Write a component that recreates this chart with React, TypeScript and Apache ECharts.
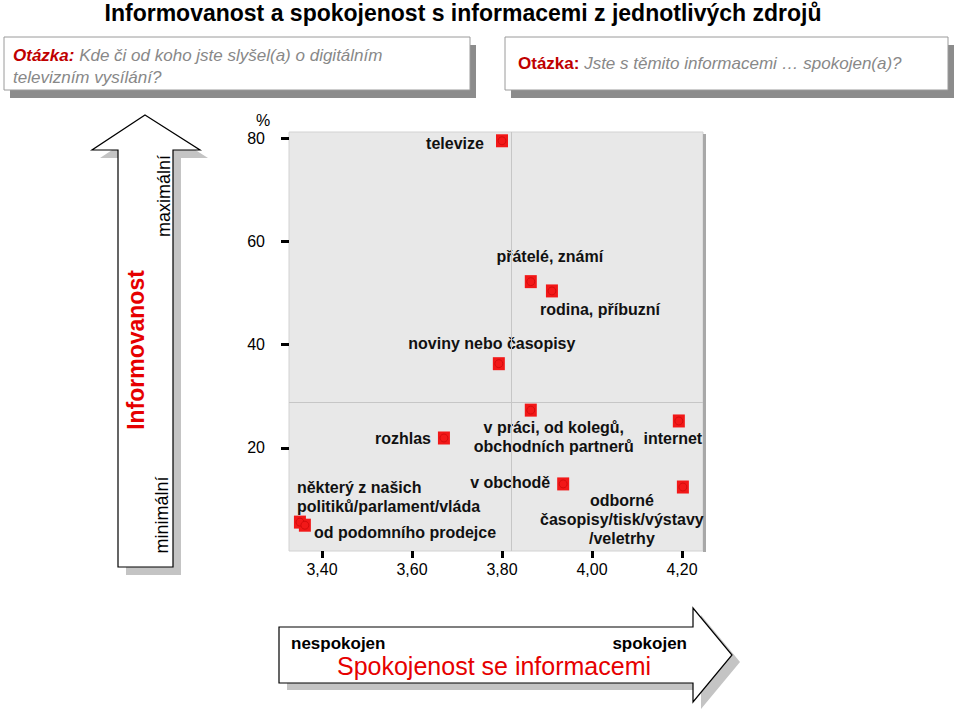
import React, { useEffect, useRef } from 'react';
import * as echarts from 'echarts';

const sources = [
  'televize',
  'přátelé, známí',
  'rodina, příbuzní',
  'noviny nebo časopisy',
  'v práci, od kolegů,\nobchodních partnerů',
  'internet',
  'rozhlas',
  'v obchodě',
  'odborné\nčasopisy/tisk/výstavy\n/veletrhy',
  'některý z našich\npolitiků/parlament/vláda',
  'od podomního prodejce',
];
const satisfaction = [3.8, 3.864, 3.911, 3.793, 3.864, 4.193, 3.671, 3.936, 4.202, 3.351, 3.362];
const awareness = [79.5, 52.2, 50.4, 36.3, 27.3, 25.2, 21.9, 13.0, 12.4, 5.6, 5.0];
const xTicks = [3.4, 3.6, 3.8, 4.0, 4.2];
const yTicks = [20, 40, 60, 80];
const meanSatisfaction = 3.822;
const meanAwareness = 28.9;

// label placement relative to each marker (layout, not data)
const labelLayout: { offset: [number, number]; align: 'left' | 'center' }[] = [
  { offset: [-47, 3], align: 'center' },
  { offset: [19, -25], align: 'center' },
  { offset: [48, 19], align: 'center' },
  { offset: [-7, -20], align: 'center' },
  { offset: [23, 27], align: 'center' },
  { offset: [-6, 18], align: 'center' },
  { offset: [-41, 1], align: 'center' },
  { offset: [-53, -1], align: 'center' },
  { offset: [-61, 32], align: 'center' },
  { offset: [-3, -25], align: 'left' },
  { offset: [9, 7], align: 'left' },
];

const FONT = '"Liberation Sans", Arial, sans-serif';

export default function App() {
  const ref = useRef<HTMLDivElement>(null);
  useEffect(() => {
    if (!ref.current) return;
    const chart = echarts.init(ref.current, undefined, { renderer: 'svg' });

    const rectData = sources.map((name, i) => ({
      name,
      value: [satisfaction[i], awareness[i]],
      label: {
        show: true,
        position: 'inside',
        offset: labelLayout[i].offset,
        align: labelLayout[i].align,
        verticalAlign: 'middle',
      },
    }));
    const circleData = sources.map((name, i) => ({ name, value: [satisfaction[i], awareness[i]] }));

    const shadowGray = '#c4c4c4';
    const upArrow = (dx: number, dy: number) => [
      [145 + dx, 115 + dy], [200 + dx, 150 + dy], [173 + dx, 150 + dy], [173 + dx, 567 + dy],
      [118 + dx, 567 + dy], [118 + dx, 150 + dy], [92 + dx, 150 + dy],
    ];
    const rightArrow = (dx: number, dy: number) => [
      [279 + dx, 627 + dy], [693 + dx, 627 + dy], [693 + dx, 608 + dy], [732 + dx, 655 + dy],
      [693 + dx, 702 + dy], [693 + dx, 683 + dy], [279 + dx, 683 + dy],
    ];

    const option: any = {
      animation: false,
      backgroundColor: '#ffffff',
      textStyle: { fontFamily: FONT },
      grid: {
        left: 289, top: 132, width: 414, height: 419,
        show: true, backgroundColor: '#e8e8e8', borderColor: '#d2d2d2', borderWidth: 1,
      },
      xAxis: {
        type: 'value', min: 3.3267, max: 4.2467,
        axisLine: { show: false },
        splitLine: { show: false },
        axisTick: { show: true, customValues: xTicks, length: 7, lineStyle: { color: '#000', width: 3 } },
        axisLabel: {
          customValues: xTicks, margin: 10, color: '#000', fontSize: 16, fontFamily: FONT,
          formatter: (v: number) => v.toFixed(2).replace('.', ','),
        },
      },
      yAxis: {
        type: 'value', min: 0, max: 81.2,
        axisLine: { show: false },
        splitLine: { show: false },
        axisTick: { show: true, customValues: yTicks, length: 8, lineStyle: { color: '#000', width: 3 } },
        axisLabel: { customValues: yTicks, margin: 24, color: '#000', fontSize: 16, fontFamily: FONT },
      },
      series: [
        {
          type: 'scatter',
          symbol: 'rect',
          symbolSize: [12, 13],
          itemStyle: { color: '#f21818', opacity: 1 },
          label: {
            color: '#111', fontSize: 16, fontWeight: 'bold', fontFamily: FONT, lineHeight: 19,
            formatter: (p: any) => p.name,
          },
          data: rectData,
          markLine: {
            silent: true, symbol: 'none', label: { show: false },
            lineStyle: { color: '#c6c6c6', width: 1, type: 'solid' },
            data: [{ xAxis: meanSatisfaction }, { yAxis: meanAwareness }],
          },
          z: 3,
        },
        {
          type: 'scatter',
          symbol: 'circle',
          symbolSize: 8,
          itemStyle: { color: '#f21818', borderColor: '#d40c0c', borderWidth: 1, opacity: 1 },
          label: { show: false },
          data: circleData,
          z: 4,
        },
      ],
      graphic: [
        {
          type: 'text', x: 463, y: 13,
          style: {
            text: 'Informovanost a spokojenost s informacemi z jednotlivých zdrojů',
            font: `bold 23px ${FONT}`,
            fill: '#000', textAlign: 'center', textVerticalAlign: 'middle',
          },
        },
        // question box 1
        { type: 'rect', shape: { x: 10, y: 45, width: 466, height: 53 }, style: { fill: '#8c8c8c' } },
        { type: 'rect', shape: { x: 4, y: 37, width: 466, height: 53 }, style: { fill: '#fff', stroke: '#9a9a9a', lineWidth: 1 } },
        {
          type: 'text', x: 13, y: 55,
          style: {
            text: '{r|Otázka:}{g| Kde či od koho jste slyšel(a) o digitálním}',
            textVerticalAlign: 'middle',
            rich: {
              r: { fontFamily: FONT, fontSize: 17, fontWeight: 'bold', fontStyle: 'italic', fill: '#bf0000' },
              g: { fontFamily: FONT, fontSize: 17, fontStyle: 'italic', fill: '#888888' },
            },
          },
        },
        {
          type: 'text', x: 13, y: 77,
          style: { text: 'televizním vysílání?', font: `italic 17px ${FONT}`, fill: '#888888', textVerticalAlign: 'middle' },
        },
        // question box 2
        { type: 'rect', shape: { x: 511, y: 45, width: 443, height: 53 }, style: { fill: '#8c8c8c' } },
        { type: 'rect', shape: { x: 505, y: 37, width: 443, height: 53 }, style: { fill: '#fff', stroke: '#9a9a9a', lineWidth: 1 } },
        {
          type: 'text', x: 518, y: 63,
          style: {
            text: '{r|Otázka:}{g| Jste s těmito informacemi … spokojen(a)?}',
            textVerticalAlign: 'middle',
            rich: {
              r: { fontFamily: FONT, fontSize: 17, fontWeight: 'bold', fill: '#bf0000' },
              g: { fontFamily: FONT, fontSize: 17, fontStyle: 'italic', fill: '#888888' },
            },
          },
        },
        // plot right shadow
        { type: 'rect', shape: { x: 703, y: 134, width: 3, height: 418 }, style: { fill: '#a8a8a8' } },
        // % label
        { type: 'text', x: 263, y: 120, style: { text: '%', font: `16px ${FONT}`, fill: '#000', textAlign: 'center', textVerticalAlign: 'middle' } },
        // up arrow
        { type: 'polygon', shape: { points: upArrow(8, 8) }, style: { fill: shadowGray } },
        { type: 'polygon', shape: { points: upArrow(0, 0) }, style: { fill: '#fff', stroke: '#000', lineWidth: 1.2 } },
        {
          type: 'text', x: 164, y: 196, rotation: Math.PI / 2,
          style: { text: 'maximální', font: `18px ${FONT}`, fill: '#000', textAlign: 'center', textVerticalAlign: 'middle' },
        },
        {
          type: 'text', x: 136, y: 350, rotation: Math.PI / 2,
          style: { text: 'Informovanost', font: `bold 23px ${FONT}`, fill: '#e60000', textAlign: 'center', textVerticalAlign: 'middle' },
        },
        {
          type: 'text', x: 162, y: 515, rotation: Math.PI / 2,
          style: { text: 'minimální', font: `18px ${FONT}`, fill: '#000', textAlign: 'center', textVerticalAlign: 'middle' },
        },
        // right arrow
        { type: 'polygon', shape: { points: rightArrow(8, 7) }, style: { fill: shadowGray } },
        { type: 'polygon', shape: { points: rightArrow(0, 0) }, style: { fill: '#fff', stroke: '#000', lineWidth: 1.2 } },
        {
          type: 'text', x: 291, y: 643,
          style: { text: 'nespokojen', font: `bold 17px ${FONT}`, fill: '#000', textAlign: 'left', textVerticalAlign: 'middle' },
        },
        {
          type: 'text', x: 687, y: 643,
          style: { text: 'spokojen', font: `bold 17px ${FONT}`, fill: '#000', textAlign: 'right', textVerticalAlign: 'middle' },
        },
        {
          type: 'text', x: 494, y: 666,
          style: { text: 'Spokojenost se informacemi', font: `25px ${FONT}`, fill: '#e60000', textAlign: 'center', textVerticalAlign: 'middle' },
        },
      ],
    };
    chart.setOption(option);
    return () => chart.dispose();
  }, []);
  return <div ref={ref} style={{ position: 'fixed', left: 0, top: 0, width: 960, height: 712 }} />;
}
